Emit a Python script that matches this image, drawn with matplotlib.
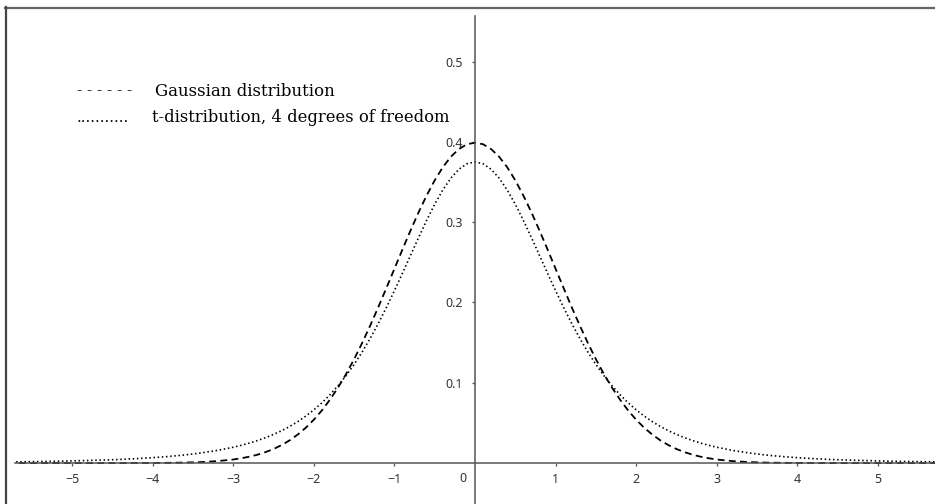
import matplotlib
matplotlib.use("Agg")
import matplotlib.pyplot as plt
from matplotlib.lines import Line2D

# ---- data ----
x_vals = [-5.8, -5.6, -5.4, -5.2, -5.0, -4.8, -4.6, -4.4, -4.2, -4.0, -3.8, -3.6, -3.4, -3.2,
          -3.0, -2.9, -2.8, -2.7, -2.6, -2.5, -2.4, -2.3, -2.2, -2.1, -2.0, -1.9, -1.8, -1.7,
          -1.6, -1.5, -1.4, -1.3, -1.2, -1.1, -1.0, -0.9, -0.8, -0.7, -0.6, -0.5, -0.4, -0.3,
          -0.2, -0.1, 0.0, 0.1, 0.2, 0.3, 0.4, 0.5, 0.6, 0.7, 0.8, 0.9, 1.0, 1.1, 1.2, 1.3,
          1.4, 1.5, 1.6, 1.7, 1.8, 1.9, 2.0, 2.1, 2.2, 2.3, 2.4, 2.5, 2.6, 2.7, 2.8, 2.9, 3.0,
          3.2, 3.4, 3.6, 3.8, 4.0, 4.2, 4.4, 4.6, 4.8, 5.0, 5.2, 5.4, 5.6, 5.8]

gaussian = [0.0, 0.0, 0.0, 0.0, 0.0, 0.0, 0.0, 0.0, 0.0001, 0.0001, 0.0003, 0.0006, 0.0012, 0.0024,
            0.0044, 0.0060, 0.0079, 0.0104, 0.0136, 0.0175, 0.0224, 0.0283, 0.0355, 0.0440,
            0.0540, 0.0656, 0.0790, 0.0940, 0.1109, 0.1295, 0.1497, 0.1714, 0.1942, 0.2179,
            0.2420, 0.2661, 0.2897, 0.3123, 0.3332, 0.3521, 0.3683, 0.3814, 0.3910, 0.3970,
            0.3989,
            0.3970, 0.3910, 0.3814, 0.3683, 0.3521, 0.3332, 0.3123, 0.2897, 0.2661, 0.2420,
            0.2179, 0.1942, 0.1714, 0.1497, 0.1295, 0.1109, 0.0940, 0.0790, 0.0656, 0.0540,
            0.0440, 0.0355, 0.0283, 0.0224, 0.0175, 0.0136, 0.0104, 0.0079, 0.0060, 0.0044,
            0.0024, 0.0012, 0.0006, 0.0003, 0.0001, 0.0001, 0.0, 0.0, 0.0, 0.0, 0.0, 0.0, 0.0, 0.0]

t_dist = [0.0014, 0.0016, 0.0019, 0.0022, 0.0027, 0.0032, 0.0038, 0.0045, 0.0055, 0.0067, 0.0082,
          0.0101, 0.0126, 0.0157,
          0.0197, 0.0221, 0.0249, 0.0280, 0.0316, 0.0357, 0.0403, 0.0456, 0.0516, 0.0585,
          0.0663, 0.0751, 0.0851, 0.0963, 0.1089, 0.1229, 0.1384, 0.1554, 0.1739, 0.1937,
          0.2147, 0.2365, 0.2587, 0.2809, 0.3023, 0.3223, 0.3400, 0.3547, 0.3658, 0.3727,
          0.3750,
          0.3727, 0.3658, 0.3547, 0.3400, 0.3223, 0.3023, 0.2809, 0.2587, 0.2365, 0.2147,
          0.1937, 0.1739, 0.1554, 0.1384, 0.1229, 0.1089, 0.0963, 0.0851, 0.0751, 0.0663,
          0.0585, 0.0516, 0.0456, 0.0403, 0.0357, 0.0316, 0.0280, 0.0249, 0.0221, 0.0197,
          0.0157, 0.0126, 0.0101, 0.0082, 0.0067, 0.0055, 0.0045, 0.0038, 0.0032, 0.0027,
          0.0022, 0.0019, 0.0016, 0.0014]

x_ticks = [-5, -4, -3, -2, -1, 1, 2, 3, 4, 5]
x_tick_labels = ["\u22125", "\u22124", "\u22123", "\u22122", "\u22121", "1", "2", "3", "4", "5"]
y_ticks = [0.1, 0.2, 0.3, 0.4, 0.5]
y_tick_labels = ["0.1", "0.2", "0.3", "0.4", "0.5"]
origin_label = "0"
legend_labels = ["Gaussian distribution", "t-distribution, 4 degrees of freedom"]
legend_markers = ["- - - - - -", "..........."]

W, H = 935, 504
fig = plt.figure(figsize=(W / 100, H / 100), dpi=100)
fig.patch.set_facecolor("white")

# axes placement (pixels)
ax_left, ax_right, ax_top, ax_bottom = 15, 935, 16, 504
ax = fig.add_axes([ax_left / W, 1 - ax_bottom / H, (ax_right - ax_left) / W, (ax_bottom - ax_top) / H])
ax.set_xlim(-5.71, 5.71)
ax.set_ylim(-0.0510, 0.5567)
ax.patch.set_alpha(0)

axis_color = "#555555"
for s in ["top", "right"]:
    ax.spines[s].set_visible(False)
ax.spines["left"].set_position(("data", 0))
ax.spines["bottom"].set_position(("data", 0))
for s in ["left", "bottom"]:
    ax.spines[s].set_color(axis_color)
    ax.spines[s].set_linewidth(1.1)

ax.set_xticks(x_ticks)
ax.set_xticklabels(x_tick_labels)
ax.set_yticks(y_ticks)
ax.set_yticklabels(y_tick_labels)
ax.tick_params(axis="both", direction="out", length=2.5, width=0.9, color=axis_color,
               labelsize=9, labelcolor="#333333")
ax.tick_params(axis="x", pad=5)
ax.tick_params(axis="y", pad=6)
for lbl in ax.get_xticklabels() + ax.get_yticklabels():
    lbl.set_fontfamily("Noto Sans")

ax.annotate(origin_label, xy=(0, 0), xytext=(-6, -6.5), textcoords="offset points",
            ha="right", va="top", fontsize=9, color="#333333", family="Noto Sans")

ax.plot(x_vals, gaussian, color="black", lw=1.3, linestyle=(0, (3.8, 2.4)))
ax.plot(x_vals, t_dist, color="black", lw=1.2, linestyle=(0, (0.9, 1.6)))

# legend as text
def fx(px):
    return px / W

def fy(py):
    return 1 - py / H

fig.text(fx(77), fy(91), legend_markers[0], ha="left", va="center", fontsize=11,
         family="DejaVu Serif", color="black")
fig.text(fx(155), fy(91), legend_labels[0], ha="left", va="center", fontsize=12,
         family="DejaVu Serif", color="black")
fig.text(fx(77), fy(118), legend_markers[1], ha="left", va="center", fontsize=11,
         family="DejaVu Serif", color="black")
fig.text(fx(152), fy(118), legend_labels[1], ha="left", va="center", fontsize=11.8,
         family="DejaVu Serif", color="black")

# outer frame (top and left only visible)
fig.add_artist(Line2D([fx(5), fx(935)], [fy(7.5), fy(7.5)], color="#666666", lw=1.6,
                      transform=fig.transFigure))
fig.add_artist(Line2D([fx(5.5), fx(5.5)], [fy(7), fy(504)], color="#444444", lw=1.6,
                      transform=fig.transFigure))

fig.savefig("out.png", dpi=100)
